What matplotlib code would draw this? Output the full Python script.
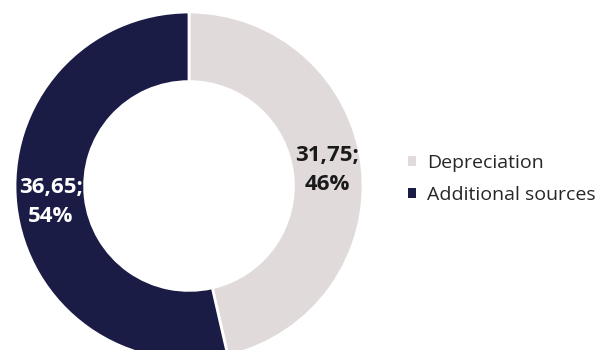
import matplotlib
matplotlib.use("Agg")
import matplotlib.pyplot as plt
import numpy as np

categories = ["Depreciation", "Additional sources"]
values = [31.75, 36.65]
value_labels = ["31,75", "36,65"]
colors = ["#e0dbda", "#1b1c45"]
label_colors = ["#1a1a1a", "#ffffff"]

plt.rcParams['font.family'] = ['Open Sans', 'DejaVu Sans']

fig = plt.figure(figsize=(6.08, 3.5), dpi=100)
# donut centre at (189, 186) px from top-left, radius 174 px
W, H = 608, 350
cx, cy, r = 189, 186, 174
ax = fig.add_axes([(cx - r) / W, (H - cy - r) / H, 2 * r / W, 2 * r / H])
ax.axis('off')

total = sum(values)
pcts = [v / total * 100 for v in values]

wedges, _ = ax.pie(values, colors=colors, startangle=90, counterclock=False,
                   radius=1.0, wedgeprops=dict(width=0.40, edgecolor='white', linewidth=2),
                   frame=False)
ax.set_xlim(-1, 1)
ax.set_ylim(-1, 1)
ax.set_aspect('auto')

for w, vl, p, c in zip(wedges, value_labels, pcts, label_colors):
    ang = np.deg2rad((w.theta1 + w.theta2) / 2)
    rr = 0.80
    ax.text(rr * np.cos(ang), rr * np.sin(ang), f"{vl};\n{p:.0f}%",
            ha='center', va='center', fontsize=16, fontweight='bold',
            color=c, linespacing=1.5)

leg = fig.legend(wedges, categories, loc='center left',
                 bbox_to_anchor=(408 / W, 1 - 179 / H), frameon=False,
                 fontsize=14, handlelength=0.42, handleheight=0.42,
                 handletextpad=0.55, labelspacing=0.7, borderpad=0,
                 borderaxespad=0)
for t in leg.get_texts():
    t.set_color('#262626')
for h in leg.legend_handles:
    h.set_linewidth(0)

fig.savefig("out.png", dpi=100)
